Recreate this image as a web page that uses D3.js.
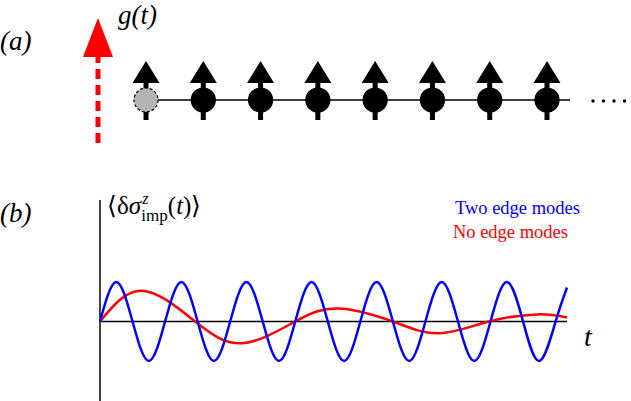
<!DOCTYPE html>
<html><head><meta charset="utf-8">
<script src="https://cdn.jsdelivr.net/npm/d3@7"></script>
<style>body{margin:0;background:#fff}</style>
</head><body><div id="chart"></div>
<script>
// sites of the chain, first one is the impurity
var sites = [0, 1, 2, 3, 4, 5, 6, 7];
// curve keypoints (t in quarter periods of the blue curve)
var blueT = [0,1,2,3,4,5,6,7,8,9,10,11,12,13,14,15,16,17,18,19,20,21,22,23,24,25,26,27,28,28.7];
var blueV = [0,1,0,-1,0,1,0,-1,0,1,0,-1,0,1,0,-1,0,1,0,-1,0,1,0,-1,0,1,0,-1,0,0.86];
var redT = [0, 2.58, 5.85, 8.74, 12.0, 14.65, 18.0, 20.8, 23.9, 26.9, 28.7];
var redV = [0, 0.78, 0, -0.55, 0, 0.33, 0, -0.3, 0, 0.18, 0.1];
var legend = [{label: "Two edge modes", color: "#0000ff"}, {label: "No edge modes", color: "#ff0000"}];

var svg = d3.select("#chart").append("svg").attr("width", 631).attr("height", 401);

// ---- panel (a)
svg.append("text").attr("x", 0).attr("y", 50).attr("font-size", 27).attr("font-style", "italic").text("(a)");

var sx = d3.scaleLinear().domain([0, 7]).range([146, 547]);
var cy = 100;
svg.append("line").attr("x1", sx(0)).attr("x2", 570).attr("y1", cy).attr("y2", cy)
  .attr("stroke", "#000").attr("stroke-width", 1.5);
// trailing dots of the chain
svg.selectAll("circle.dot").data([0, 1, 2, 3]).enter().append("circle").attr("class", "dot")
  .attr("cx", function(d) { return 593 + d * 10.5; }).attr("cy", cy + 1).attr("r", 1.7).attr("fill", "#000");

var spin = svg.selectAll("g.spin").data(sites).enter().append("g")
  .attr("transform", function(d) { return "translate(" + sx(d) + "," + cy + ")"; });
spin.append("rect").attr("x", -2.5).attr("y", -18).attr("width", 5).attr("height", 38).attr("fill", "#000");
spin.append("path").attr("d", "M0,-39L13.5,-17L-13.5,-17Z").attr("fill", "#000");
spin.append("circle").attr("r", 12)
  .attr("fill", function(d) { return d === 0 ? "#b3b3b3" : "#000"; })
  .attr("stroke", "#000").attr("stroke-width", 1.2)
  .attr("stroke-dasharray", function(d) { return d === 0 ? "3,2" : null; });

// drive arrow g(t)
svg.append("line").attr("x1", 98).attr("x2", 98).attr("y1", 143).attr("y2", 57)
  .attr("stroke", "#ff0000").attr("stroke-width", 5).attr("stroke-dasharray", "10,6");
svg.append("path").attr("d", "M98,18L113,57L83,57Z").attr("fill", "#ff0000");
svg.append("text").attr("x", 118).attr("y", 24).attr("font-size", 27).attr("font-style", "italic").text("g(t)");

// ---- panel (b)
svg.append("text").attr("x", 0).attr("y", 222).attr("font-size", 27).attr("font-style", "italic").text("(b)");

var x = d3.scaleLinear().domain([0, 28.7]).range([100, 567]);
var y = d3.scaleLinear().domain([-1, 1]).range([361, 282]);

svg.append("line").attr("x1", 100).attr("x2", 100).attr("y1", 200).attr("y2", 401).attr("stroke", "#000").attr("stroke-width", 1.5);
svg.append("line").attr("x1", 100).attr("x2", 567).attr("y1", y(0)).attr("y2", y(0)).attr("stroke", "#000").attr("stroke-width", 1.5);

var line = d3.line().x(function(d) { return x(d[0]); }).y(function(d) { return y(d[1]); }).curve(d3.curveNatural);
svg.append("path").attr("d", line(d3.zip(redT, redV))).attr("fill", "none").attr("stroke", "#ff0000").attr("stroke-width", 2.5);
svg.append("path").attr("d", line(d3.zip(blueT, blueV))).attr("fill", "none").attr("stroke", "#0000ff").attr("stroke-width", 2.5);

svg.append("text").attr("x", 584).attr("y", 346).attr("font-size", 28).attr("font-style", "italic").text("t");

var lab = svg.append("text").attr("x", 107).attr("y", 214).attr("font-size", 25);
lab.append("tspan").text("⟨δ");
lab.append("tspan").attr("font-style", "italic").text("σ");
lab.append("tspan").attr("font-size", 16).attr("font-style", "italic").attr("dy", -10).attr("dx", 1).text("z");
lab.append("tspan").attr("font-size", 17).attr("dy", 17).attr("dx", -7).text("imp");
lab.append("tspan").attr("dy", -7).text("(");
lab.append("tspan").attr("font-style", "italic").text("t");
lab.append("tspan").text(")⟩");

svg.selectAll("text.leg").data(legend).enter().append("text").attr("class", "leg")
  .attr("x", function(d, i) { return i ? 568 : 580; })
  .attr("y", function(d, i) { return 214 + i * 24; })
  .attr("text-anchor", "end").attr("font-size", 18.5)
  .attr("fill", function(d) { return d.color; }).text(function(d) { return d.label; });

// serif everywhere, set on each text node
svg.selectAll("text, tspan").style("font-family", "'Liberation Serif'");
</script></body></html>
